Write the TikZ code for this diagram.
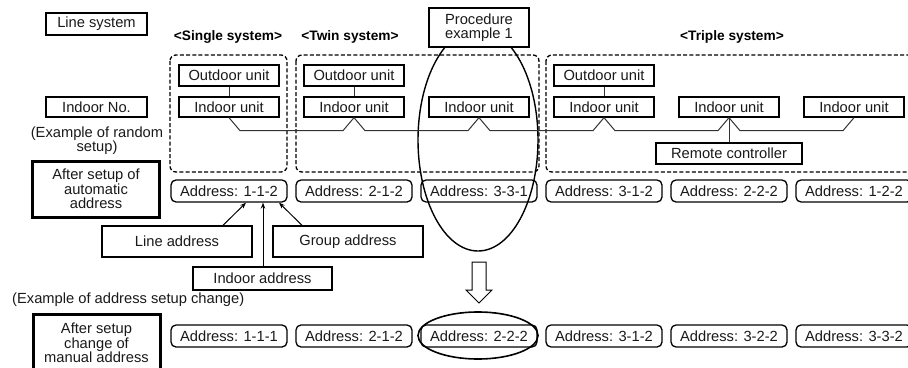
\documentclass[tikz,border=0pt]{standalone}
\usepackage{fontspec}
\setmainfont{Liberation Sans}
\usetikzlibrary{arrows.meta}
\newcommand{\fsz}{\fontsize{14.7}{14.6}\selectfont}
\newcommand{\hsz}{\fontsize{13.7}{14}\selectfont\bfseries}
\tikzset{
  box/.style={draw, line width=1.3pt, inner sep=0pt, font=\fsz, align=center, text=black!90},
  unitbox/.style={box, minimum width=100pt, minimum height=20pt},
  addrbox/.style={box, rounded corners=5pt, minimum width=116pt, minimum height=22pt},
  thickbox/.style={box, line width=3pt, minimum width=127pt},
  grp/.style={draw, line width=1.3pt, dash pattern=on 4pt off 2.2pt, rounded corners=6pt},
  wire/.style={draw=black!80, line width=1pt},
  pointer/.style={line width=1pt, -{Stealth[length=6pt,width=4.5pt]}},
  heading/.style={font=\hsz, inner sep=0pt},
  plain/.style={font=\fsz, inner sep=0pt, align=center, text=black!90},
  loop/.style={draw, line width=1.4pt}
}
\begin{document}
\begin{tikzpicture}[x=1pt, y=-1pt]
\useasboundingbox (0,0) rectangle (908,367);

% left labels
\node[box, minimum width=101pt, minimum height=22pt] (ls) at (96.5,24) {Line system};
\node[box, minimum width=101pt, minimum height=20pt] (ino) at (96.5,107) {Indoor No.};
\node[plain] (rnd) at (97,140.5) {(Example of random\\setup)};
\node[thickbox, minimum height=56pt] (auto) at (96,189) {After setup of\\automatic\\address};
\node[plain, anchor=west] (chg) at (12,300) {(Example of address setup change)};
\node[thickbox, minimum height=58pt] (man) at (96.5,343) {After setup\\change of\\manual address};

% headings
\node[heading] (hs) at (228,37) {<Single system>};
\node[heading] (ht) at (350,37) {<Twin system>};
\node[heading] (htr) at (732,37) {<Triple system>};

% group frames
\draw[grp] (170,55) rectangle (287,172);
\draw[grp] (296,55) rectangle (539,172);
\draw[grp] (546,55) rectangle (925,172);

% big ellipse (behind procedure box)
\draw[loop] (478,140) ellipse [x radius=60, y radius=111];
\node[box, fill=white, minimum width=100pt, minimum height=39pt] (proc) at (479,27.5) {Procedure\\example 1};

% outdoor units
\node[unitbox, minimum height=21pt] (o1) at (229,75.5) {Outdoor unit};
\node[unitbox, minimum height=21pt] (o2) at (354,75.5) {Outdoor unit};
\node[unitbox, minimum height=21pt] (o4) at (604,75.5) {Outdoor unit};

% indoor units
\foreach \i/\x in {1/229,2/354,3/479,4/604,5/729,6/854}
  \node[unitbox] (i\i) at (\x,107) {Indoor unit};

\draw[wire] (o1) -- (i1);
\draw[wire] (o2) -- (i2);
\draw[wire] (o4) -- (i4);

% bus
\draw[wire] (i1.south) -- ++(11,13)
  -- ([shift={(-11,13)}]i2.south) -- (i2.south) -- ++(11,13)
  -- ([shift={(-11,13)}]i3.south) -- (i3.south) -- ++(11,13)
  -- ([shift={(-11,13)}]i4.south) -- (i4.south) -- ++(11,13)
  -- ([shift={(-11,13)}]i5.south) -- (i5.south) -- ++(11,13)
  -- ([shift={(-11,13)}]i6.south) -- (i6.south);

\node[box, minimum width=146pt, minimum height=21pt] (rc) at (729,153.5) {Remote controller};
\draw[wire] (i5.south) -- (rc.north);

% automatic addresses
\foreach \i/\x/\t in {1/229/1-1-2,2/354/2-1-2,3/479/3-3-1,4/604/3-1-2,5/729/2-2-2,6/854/1-2-2}
  \node[addrbox] (a\i) at (\x,191) {Address: \t};

% manual addresses
\foreach \i/\x/\t in {1/229/1-1-1,2/354/2-1-2,3/479/2-2-2,4/604/3-1-2,5/729/3-2-2,6/854/3-3-2}
  \node[addrbox] (m\i) at (\x,336) {Address: \t};

% small ellipse
\draw[loop, line width=1.6pt] (478,335.5) ellipse [x radius=60, y radius=23.5];

% address explanation
\node[box, minimum width=150pt, minimum height=31pt] (la) at (177,241.5) {Line address};
\node[box, minimum width=150pt, minimum height=31pt] (ga) at (348,241.5) {Group address};
\node[box, minimum width=139pt, minimum height=23pt] (ia) at (262.5,278.5) {Indoor address};

\coordinate (tl) at ([xshift=17pt]a1.south);
\coordinate (ti) at ([xshift=34pt]a1.south);
\coordinate (tg) at ([xshift=50pt]a1.south);
\coordinate (sl) at ([xshift=46pt]la.north);
\coordinate (sg) at ([xshift=-46pt]ga.north);
\draw[pointer] (sl) -- (tl);
\draw[pointer] (sg) -- (tg);
\draw[pointer] (ia.north -| ti) -- (ti);

% hollow arrow
\draw[line width=1pt, fill=white] (472,262) -- (486,262) -- (486,290) -- (492,290)
  -- (479,303) -- (466,290) -- (472,290) -- cycle;
\end{tikzpicture}
\end{document}
